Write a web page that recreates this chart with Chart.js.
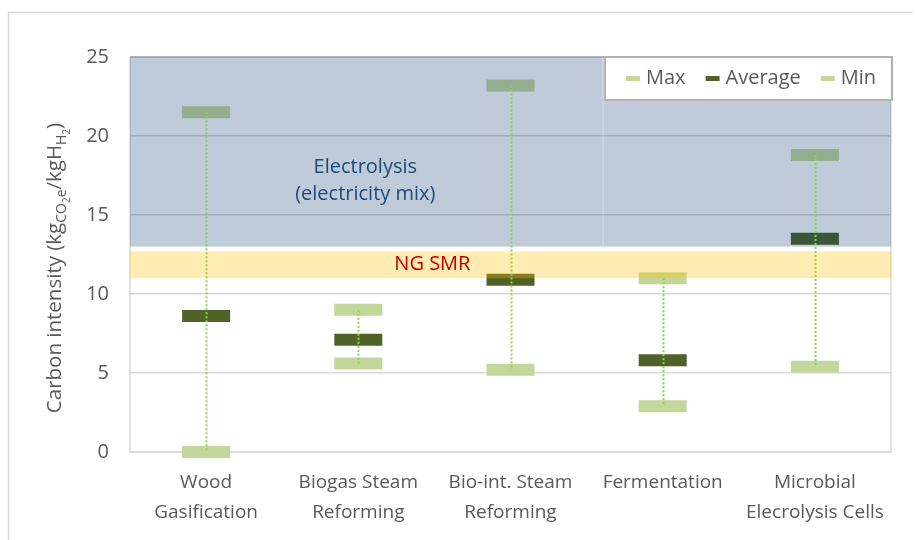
<!DOCTYPE html>
<html>
<head>
<meta charset="utf-8">
<script src="https://cdn.jsdelivr.net/npm/chart.js@4.4.1/dist/chart.umd.min.js"></script>
<style>
  html, body { margin: 0; padding: 0; background: #fff; }
  #wrap { width: 915px; height: 540px; position: relative; }
</style>
</head>
<body>
<div id="wrap"><canvas id="chart"></canvas></div>
<script>
"use strict";

/* --- DATA --- */

const categories = [
  ['Wood', 'Gasification'],
  ['Biogas Steam', 'Reforming'],
  ['Bio-int. Steam', 'Reforming'],
  'Fermentation',
  ['Microbial', 'Elecrolysis Cells']
];
const max_values = [21.5, 9.0, 23.2, 11.0, 18.8];
const avg_values = [8.6, 7.1, 10.9, 5.8, 13.5];
const min_values = [0.0, 5.6, 5.2, 2.9, 5.4];
const y_ticks = [0, 5, 10, 15, 20, 25];

const electrolysis_band = [13, 25];
const electrolysis_label = ['Electrolysis', '(electricity mix)'];
const ng_smr_band = [11, 12.7];
const ng_smr_label = 'NG SMR';

const light_green = '#c4d79b';
const dark_green = '#4f6228';
const text_grey = '#595959';
const font_family = "'Open Sans', sans-serif";

/* --- PLUGINS --- */

const overlay_plugin = {
  id: 'overlay',
  beforeDatasetsDraw(chart) {
    const { ctx, chartArea: a } = chart;
    ctx.save();
    ctx.strokeStyle = '#d9d9d9';
    ctx.lineWidth = 1.5;
    ctx.beginPath();
    ctx.moveTo(a.left, a.top);
    ctx.lineTo(a.left, a.bottom);
    ctx.lineTo(a.right, a.bottom);
    ctx.lineTo(a.right, a.top);
    ctx.stroke();
    ctx.restore();
  },
  afterDatasetsDraw(chart) {
    const { ctx, chartArea: a, scales: { x, y } } = chart;
    ctx.save();

    // shaded bands
    const e_top = y.getPixelForValue(electrolysis_band[1]);
    const e_bot = y.getPixelForValue(electrolysis_band[0]);
    ctx.fillStyle = 'rgba(0, 47, 105, 0.25)';
    ctx.fillRect(a.left, e_top, a.right - a.left, e_bot - e_top);
    ctx.strokeStyle = 'rgba(150, 160, 175, 0.9)';
    ctx.lineWidth = 1.5;
    ctx.beginPath();
    ctx.moveTo(a.left, e_top);
    ctx.lineTo(a.right, e_top);
    ctx.stroke();
    // faint seam where the two band shapes meet
    ctx.strokeStyle = 'rgba(255, 255, 255, 0.25)';
    ctx.lineWidth = 1.5;
    ctx.beginPath();
    ctx.moveTo(603, e_top);
    ctx.lineTo(603, e_bot);
    ctx.stroke();

    const n_top = y.getPixelForValue(ng_smr_band[1]);
    const n_bot = y.getPixelForValue(ng_smr_band[0]);
    ctx.fillStyle = 'rgba(255, 192, 0, 0.3)';
    ctx.fillRect(a.left, n_top, a.right - a.left, n_bot - n_top);

    // band labels
    ctx.textAlign = 'center';
    ctx.textBaseline = 'middle';
    ctx.font = '20px ' + font_family;
    ctx.fillStyle = '#1f497d';
    const ex = x.getPixelForValue(1) + 7;
    ctx.fillText(electrolysis_label[0], ex, y.getPixelForValue(18.05));
    ctx.fillText(electrolysis_label[1], ex, y.getPixelForValue(16.3));
    ctx.fillStyle = '#c00000';
    ctx.fillText(ng_smr_label, x.getPixelForValue(1.5) - 2, (n_top + n_bot) / 2);

    // dotted min-max lines
    ctx.strokeStyle = '#92d050';
    ctx.lineWidth = 2;
    ctx.setLineDash([2, 2]);
    for (let i = 0; i < categories.length; i++) {
      const px = Math.round(x.getPixelForValue(i)) + 0.5;
      ctx.beginPath();
      ctx.moveTo(px, y.getPixelForValue(max_values[i]));
      ctx.lineTo(px, y.getPixelForValue(min_values[i]));
      ctx.stroke();
    }
    ctx.restore();
  },
  afterDraw(chart) {
    const { ctx, chartArea: a } = chart;
    ctx.save();

    // outer frame
    ctx.strokeStyle = '#d9d9d9';
    ctx.lineWidth = 1.5;
    ctx.beginPath();
    ctx.moveTo(8.5, chart.height);
    ctx.lineTo(8.5, 12.5);
    ctx.lineTo(913, 12.5);
    ctx.stroke();

    // legend box
    const lx = 605, ly = a.top, lw = a.right - lx + 1, lh = 43;
    ctx.fillStyle = '#fff';
    ctx.fillRect(lx, ly, lw, lh);
    ctx.strokeStyle = '#b3b3b3';
    ctx.lineWidth = 2;
    ctx.strokeRect(lx, ly, lw, lh);

    ctx.font = '20px ' + font_family;
    ctx.textBaseline = 'middle';
    ctx.textAlign = 'left';
    let cx = 626;
    const cy = ly + lh / 2;
    chart.data.datasets.forEach(ds => {
      ctx.fillStyle = ds.pointBorderColor;
      ctx.fillRect(cx, cy - 2.5, 14, 5);
      ctx.fillStyle = text_grey;
      ctx.fillText(ds.label, cx + 20, cy);
      cx += 20 + ctx.measureText(ds.label).width + 20;
    });

    // y axis title with subscripts
    const parts = [
      { t: 'Carbon intensity (kg', lvl: 0 },
      { t: 'CO', lvl: 1 },
      { t: '2', lvl: 2 },
      { t: 'e', lvl: 1 },
      { t: '/kgH', lvl: 0 },
      { t: 'H', lvl: 1 },
      { t: '2', lvl: 2 },
      { t: ')', lvl: 0 }
    ];
    const sizes = [20.5, 14, 10];
    const shift = [0, 5, 9];
    let total = 0;
    parts.forEach(p => {
      ctx.font = sizes[p.lvl] + 'px ' + font_family;
      p.w = ctx.measureText(p.t).width;
      total += p.w;
    });
    ctx.translate(61, 268);
    ctx.rotate(-Math.PI / 2);
    ctx.fillStyle = text_grey;
    ctx.textBaseline = 'alphabetic';
    let tx = -total / 2;
    parts.forEach(p => {
      ctx.font = sizes[p.lvl] + 'px ' + font_family;
      ctx.fillText(p.t, tx, shift[p.lvl]);
      tx += p.w;
    });
    ctx.restore();
  }
};

/* --- CHART --- */

const marker = (label, data, color) => ({
  label: label,
  data: data,
  showLine: false,
  clip: false,
  pointStyle: 'line',
  pointRadius: 24,
  pointHoverRadius: 24,
  pointBorderWidth: 12,
  pointBorderColor: color,
  pointBackgroundColor: color
});

const ctx_chart = document.getElementById('chart');

let ci_chart = new Chart(ctx_chart, {
  type: 'line',
  data: {
    labels: categories,
    datasets: [
      marker('Max', max_values, light_green),
      marker('Average', avg_values, dark_green),
      marker('Min', min_values, light_green)
    ]
  },
  options: {
    responsive: true,
    maintainAspectRatio: false,
    animation: false,
    events: [],
    layout: {
      autoPadding: false,
      padding: { top: 57, right: 24, left: 0, bottom: 0 }
    },
    plugins: {
      legend: { display: false },
      tooltip: { enabled: false },
      title: { display: false }
    },
    scales: {
      x: {
        offset: true,
        grid: { display: false, drawTicks: false },
        border: { display: false },
        ticks: {
          color: text_grey,
          font: { family: font_family, size: 19, lineHeight: 1.55 },
          padding: 16,
          maxRotation: 0,
          autoSkip: false
        },
        afterFit(scale) {
          scale.height = 88;
          scale.paddingLeft = 0;
          scale.paddingRight = 0;
        }
      },
      y: {
        min: y_ticks[0],
        max: y_ticks[y_ticks.length - 1],
        afterBuildTicks(scale) { scale.ticks = y_ticks.map(v => ({ value: v })); },
        grid: { color: '#d9d9d9', lineWidth: 1.5, drawTicks: false },
        border: { display: false },
        ticks: {
          color: text_grey,
          font: { family: font_family, size: 20 },
          padding: 21
        },
        afterFit(scale) { scale.width = 130; }
      }
    }
  },
  plugins: [overlay_plugin]
});
</script>
</body>
</html>
